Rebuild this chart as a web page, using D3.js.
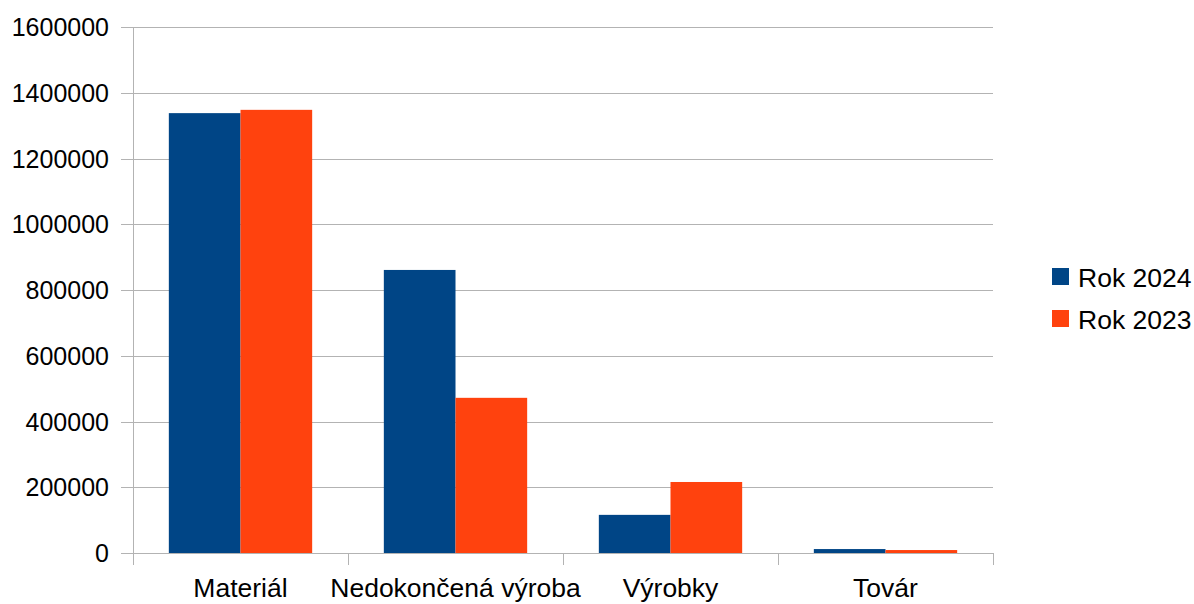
<!DOCTYPE html>
<html>
<head>
<meta charset="utf-8">
<script src="https://cdn.jsdelivr.net/npm/d3@7"></script>
<style>
  body { margin: 0; background: #fff; }
  text { font-family: "Liberation Sans", Arial, sans-serif; fill: #000; }
</style>
</head>
<body>
<div id="viz"></div>
<script>
//data
var categories = ["Materiál", "Nedokončená výroba", "Výrobky", "Továr"];
var seriesNames = ["Rok 2024", "Rok 2023"];
var values2024 = [1338000, 861000, 116000, 12000];
var values2023 = [1348000, 472000, 216000, 9000];
var yTicks = [0, 200000, 400000, 600000, 800000, 1000000, 1200000, 1400000, 1600000];
var colors = ["#004586", "#ff420e"];

//svg width&height
var width = 1194;
var height = 604;
var margin = { t: 27, l: 133, b: 51, r: 201 };

var svg = d3.select('#viz').append('svg')
  .attr('width', width)
  .attr('height', height);

var x = d3.scaleBand()
  .domain(categories)
  .range([margin.l, width - margin.r])
  .paddingInner(0)
  .paddingOuter(0);

// two bars per category, half a bar of space on each side
var x1 = d3.scaleBand()
  .domain(seriesNames)
  .range([0, x.bandwidth()])
  .paddingInner(0)
  .paddingOuter(0.5);

var y = d3.scaleLinear()
  .domain([0, 1600000])
  .range([height - margin.b, margin.t]);

//gridlines
svg.append('g')
  .selectAll('line')
  .data(yTicks)
  .join('line')
  .attr('x1', margin.l - 12)
  .attr('x2', width - margin.r)
  .attr('y1', d => Math.round(y(d)) + 0.5)
  .attr('y2', d => Math.round(y(d)) + 0.5)
  .attr('stroke', '#b3b3b3')
  .attr('stroke-width', 1);

//y axis line
svg.append('line')
  .attr('x1', margin.l + 0.5).attr('x2', margin.l + 0.5)
  .attr('y1', margin.t).attr('y2', y(0))
  .attr('stroke', '#b3b3b3');

//y labels
svg.append('g')
  .selectAll('text')
  .data(yTicks)
  .join('text')
  .attr('x', 109)
  .attr('y', d => y(d) + 9)
  .attr('text-anchor', 'end')
  .style('font-size', '25px')
  .text(d => d);

//bars
var series = [values2024, values2023];
var g_bars = svg.append('g');
series.forEach(function(vals, si) {
  g_bars.selectAll('rect.s' + si)
    .data(vals)
    .join('rect')
    .attr('class', 's' + si)
    .attr('x', (d, i) => x(categories[i]) + x1(seriesNames[si]))
    .attr('width', x1.bandwidth())
    .attr('y', d => y(d))
    .attr('height', d => y(0) - y(d))
    .attr('fill', colors[si]);
});

//x axis ticks
var xTickPos = categories.map(c => x(c)).concat([x.range()[1]]);
svg.append('g')
  .selectAll('line')
  .data(xTickPos)
  .join('line')
  .attr('x1', d => Math.round(d) + 0.5)
  .attr('x2', d => Math.round(d) + 0.5)
  .attr('y1', y(0))
  .attr('y2', y(0) + 12)
  .attr('stroke', '#b3b3b3');

//x labels
svg.append('g')
  .selectAll('text')
  .data(categories)
  .join('text')
  .attr('x', d => x(d) + x.bandwidth() / 2)
  .attr('y', 597)
  .attr('text-anchor', 'middle')
  .style('font-size', '26.5px')
  .text(d => d);

//legend
var legend = svg.append('g')
  .selectAll('g')
  .data(seriesNames)
  .join('g')
  .attr('transform', (d, i) => `translate(1052, ${268 + i * 42})`);
legend.append('rect')
  .attr('width', 17).attr('height', 17)
  .attr('fill', (d, i) => colors[i]);
legend.append('text')
  .attr('x', 26)
  .attr('y', 18.5)
  .style('font-size', '26.5px')
  .text(d => d);
</script>
</body>
</html>
